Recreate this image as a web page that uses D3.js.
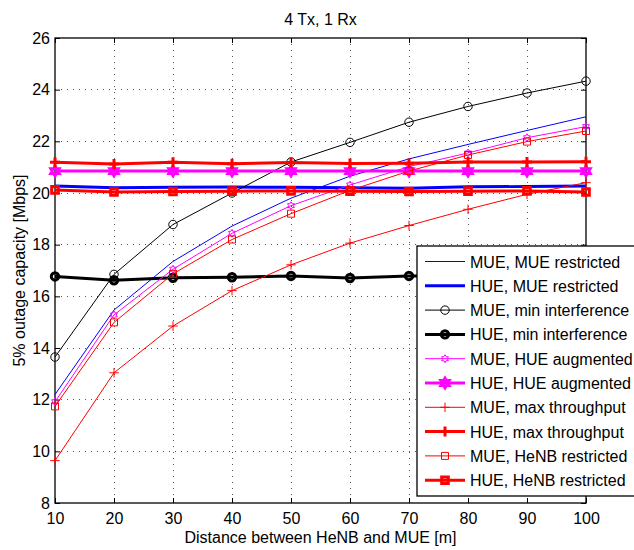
<!DOCTYPE html>
<html>
<head>
<meta charset="utf-8">
<script src="https://cdn.jsdelivr.net/npm/d3@7"></script>
<style>
  body { margin: 0; background: #fff; }
  svg { font-family: "Liberation Sans", Arial, Helvetica, sans-serif; }
</style>
</head>
<body>
<div class="chart"></div>
<script>
// distances in m
var distances = [10, 20, 30, 40, 50, 60, 70, 80, 90, 100];

// 5% outage capacity values [Mbps]
var mueMueRestricted  = [12.2, 15.47, 17.35, 18.72, 19.8, 20.65, 21.32, 21.88, 22.42, 22.95];
var hueMueRestricted  = [20.27, 20.2, 20.22, 20.23, 20.22, 20.2, 20.18, 20.24, 20.25, 20.27];
var mueMinInterf      = [13.65, 16.85, 18.78, 20.0, 21.2, 21.96, 22.74, 23.35, 23.87, 24.33];
var hueMinInterf      = [16.77, 16.62, 16.72, 16.74, 16.79, 16.71, 16.79, 16.8, 16.75, 16.8];
var mueHueAugmented   = [11.92, 15.28, 17.05, 18.44, 19.51, 20.31, 21.02, 21.55, 22.14, 22.57];
var hueHueAugmented   = [20.85, 20.85, 20.85, 20.85, 20.85, 20.85, 20.85, 20.85, 20.85, 20.85];
var mueMaxThroughput  = [9.64, 13.04, 14.85, 16.22, 17.22, 18.06, 18.74, 19.37, 19.95, 20.4];
var hueMaxThroughput  = [21.19, 21.12, 21.19, 21.13, 21.18, 21.14, 21.15, 21.2, 21.2, 21.21];
var mueHenbRestricted = [11.74, 14.99, 16.87, 18.2, 19.2, 20.1, 20.85, 21.47, 21.99, 22.4];
var hueHenbRestricted = [20.12, 20.04, 20.06, 20.07, 20.08, 20.07, 20.06, 20.07, 20.08, 20.04];

var seriesNames = [
  "MUE, MUE restricted", "HUE, MUE restricted",
  "MUE, min interference", "HUE, min interference",
  "MUE, HUE augmented", "HUE, HUE augmented",
  "MUE, max throughput", "HUE, max throughput",
  "MUE, HeNB restricted", "HUE, HeNB restricted"
];
var seriesValues = [
  mueMueRestricted, hueMueRestricted,
  mueMinInterf, hueMinInterf,
  mueHueAugmented, hueHueAugmented,
  mueMaxThroughput, hueMaxThroughput,
  mueHenbRestricted, hueHenbRestricted
];

var xTicks = [10, 20, 30, 40, 50, 60, 70, 80, 90, 100];
var yTicks = [8, 10, 12, 14, 16, 18, 20, 22, 24, 26];

// style per series
var styles = [
  {color: "#0000ff", width: 1, marker: null},
  {color: "#0000ff", width: 3, marker: null},
  {color: "#000000", width: 1, marker: "circle"},
  {color: "#000000", width: 3, marker: "circle"},
  {color: "#ff00ff", width: 1, marker: "hexagram"},
  {color: "#ff00ff", width: 3, marker: "hexagram"},
  {color: "#ff0000", width: 1, marker: "plus"},
  {color: "#ff0000", width: 3, marker: "plus"},
  {color: "#ff0000", width: 1, marker: "square"},
  {color: "#ff0000", width: 3, marker: "square"}
];

var W = 634, H = 550;
var margin = {left: 55, right: 48, top: 38, bottom: 47};
var width = W - margin.left - margin.right;
var height = H - margin.top - margin.bottom;

var svg = d3.select(".chart").append("svg")
  .attr("width", W)
  .attr("height", H);

var g = svg.append("g")
  .attr("transform", "translate(" + margin.left + "," + margin.top + ")");

var x = d3.scaleLinear().domain([10, 100]).range([0, width]);
var y = d3.scaleLinear().domain([8, 26]).range([height, 0]);

// grid (dotted)
g.append("g").selectAll("line.gx")
  .data(xTicks.slice(1, -1))
  .enter().append("line")
    .attr("x1", function(d){ return x(d); })
    .attr("x2", function(d){ return x(d); })
    .attr("y1", 0).attr("y2", height)
    .attr("stroke", "#555").attr("stroke-width", 1)
    .attr("stroke-dasharray", "1,5")
    .attr("shape-rendering", "crispEdges");
g.append("g").selectAll("line.gy")
  .data(yTicks.slice(1, -1))
  .enter().append("line")
    .attr("x1", 0).attr("x2", width)
    .attr("y1", function(d){ return y(d); })
    .attr("y2", function(d){ return y(d); })
    .attr("stroke", "#555").attr("stroke-width", 1)
    .attr("stroke-dasharray", "1,5")
    .attr("shape-rendering", "crispEdges");

// axes with inward ticks
function styleAxis(sel) {
  sel.selectAll(".domain").remove();
  sel.selectAll(".tick line").attr("stroke", "#000");
  sel.selectAll("text").attr("font-size", 16).attr("fill", "#000")
    .attr("font-family", "Liberation Sans, Arial, sans-serif");
}

g.append("g")
  .attr("transform", "translate(0," + height + ")")
  .call(d3.axisBottom(x).tickValues(xTicks).tickSize(-5).tickPadding(10).tickFormat(d3.format("d")))
  .call(styleAxis);
g.append("g")
  .call(d3.axisTop(x).tickValues(xTicks).tickSize(-5).tickFormat(""))
  .call(styleAxis);
g.append("g")
  .call(d3.axisLeft(y).tickValues(yTicks).tickSize(-5).tickPadding(5).tickFormat(d3.format("d")))
  .call(styleAxis);
g.append("g")
  .attr("transform", "translate(" + width + ",0)")
  .call(d3.axisRight(y).tickValues(yTicks).tickSize(-5).tickFormat(""))
  .call(styleAxis);

g.append("rect")
  .attr("x", 0).attr("y", 0)
  .attr("width", width).attr("height", height)
  .attr("fill", "none").attr("stroke", "#000").attr("stroke-width", 1.3);

// markers
var hexagram = {
  draw: function(context, size) {
    var r = Math.sqrt(size) * 0.62, ri = r / Math.sqrt(3);
    for (var i = 0; i < 12; i++) {
      var a = Math.PI / 2 + i * Math.PI / 6;
      var rr = i % 2 === 0 ? r : ri;
      var px = rr * Math.cos(a), py = -rr * Math.sin(a);
      if (i === 0) context.moveTo(px, py); else context.lineTo(px, py);
    }
    context.closePath();
  }
};
var plus = {
  draw: function(context, size) {
    var r = Math.sqrt(size) / 2;
    context.moveTo(-r, 0); context.lineTo(r, 0);
    context.moveTo(0, -r); context.lineTo(0, r);
  }
};
function markerPath(kind, thick) {
  if (kind === "circle") return d3.symbol().type(d3.symbolCircle).size(thick ? 43 : 56)();
  if (kind === "square") return d3.symbol().type(d3.symbolSquare).size(thick ? 44 : 49)();
  if (kind === "plus") return d3.symbol().type(plus).size(thick ? 100 : 90)();
  if (kind === "hexagram") return d3.symbol().type(hexagram).size(thick ? 60 : 40)();
  return null;
}

var line = d3.line()
  .x(function(d, i){ return x(distances[i]); })
  .y(function(d){ return y(d); });

seriesValues.forEach(function(vals, k) {
  var st = styles[k];
  var sg = g.append("g");
  sg.append("path")
    .attr("d", line(vals))
    .attr("fill", "none")
    .attr("stroke", st.color)
    .attr("stroke-width", st.width)
    .attr("stroke-linejoin", "round");
  if (st.marker) {
    var mp = markerPath(st.marker, st.width > 1);
    sg.selectAll("path.m")
      .data(vals)
      .enter().append("path")
        .attr("class", "m")
        .attr("d", mp)
        .attr("transform", function(d, i){ return "translate(" + x(distances[i]) + "," + y(d) + ")"; })
        .attr("fill", "none")
        .attr("stroke", st.color)
        .attr("stroke-width", st.width);
  }
});

// title and labels
svg.append("text")
  .attr("x", margin.left + width / 2).attr("y", 25)
  .attr("text-anchor", "middle").attr("font-size", 16)
  .text("4 Tx, 1 Rx");
svg.append("text")
  .attr("x", margin.left + width / 2).attr("y", 543)
  .attr("text-anchor", "middle").attr("font-size", 16)
  .text("Distance between HeNB and MUE [m]");
svg.append("text")
  .attr("transform", "translate(25," + (margin.top + height / 2) + ") rotate(-90)")
  .attr("text-anchor", "middle").attr("font-size", 16)
  .text("5% outage capacity [Mbps]");

// legend
var lg = svg.append("g").attr("transform", "translate(417,246)");
lg.append("rect")
  .attr("x", 0).attr("y", 0)
  .attr("width", 230).attr("height", 250)
  .attr("fill", "#fff").attr("stroke", "#000").attr("stroke-width", 1.3);
seriesNames.forEach(function(name, k) {
  var st = styles[k];
  var cy = 15.5 + k * 24.3;
  var row = lg.append("g");
  row.append("line")
    .attr("x1", 8).attr("x2", 48)
    .attr("y1", cy).attr("y2", cy)
    .attr("stroke", st.color).attr("stroke-width", st.width);
  if (st.marker) {
    row.append("path")
      .attr("d", markerPath(st.marker, st.width > 1))
      .attr("transform", "translate(28," + cy + ")")
      .attr("fill", "none").attr("stroke", st.color).attr("stroke-width", st.width);
  }
  row.append("text")
    .attr("x", 53).attr("y", cy + 6)
    .attr("font-size", 16)
    .text(name);
});
</script>
</body>
</html>
